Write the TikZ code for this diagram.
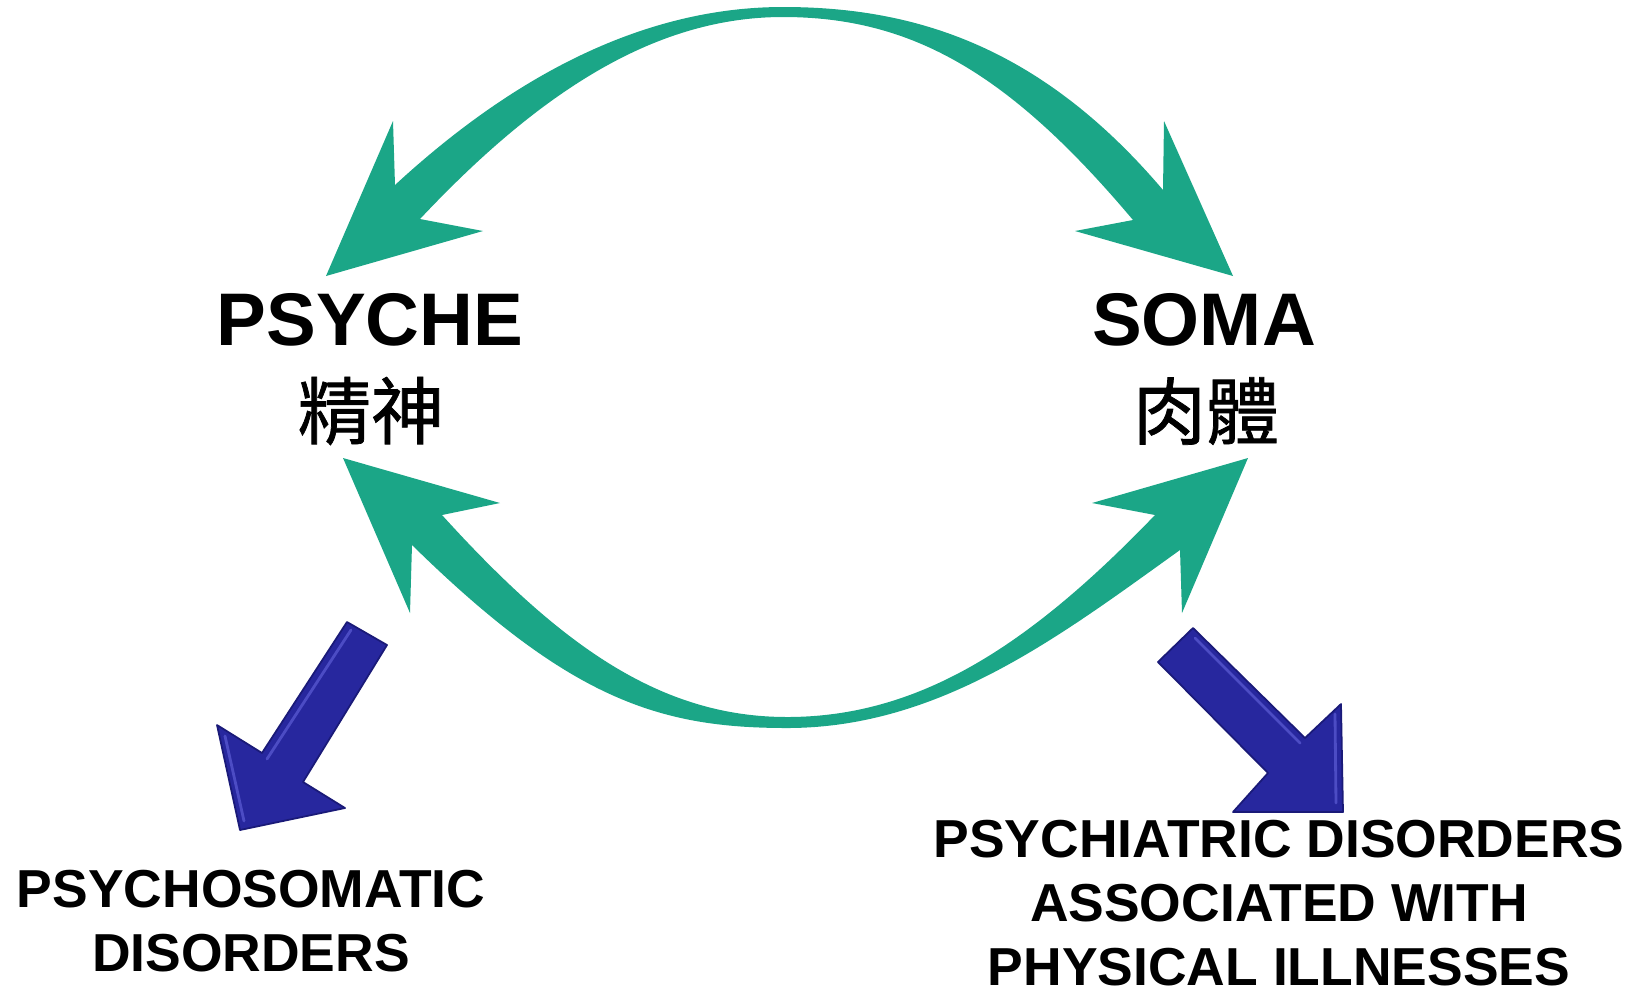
\documentclass[tikz,border=0pt]{standalone}
\usepackage{fontspec}
\setmainfont{Liberation Sans}
\newfontfamily\cjk[FakeBold=1]{Noto Sans CJK TC}
\usetikzlibrary{positioning}
\definecolor{loopgreen}{HTML}{1BA687}
\definecolor{arrowblue}{HTML}{27279E}
\definecolor{arrowlight}{HTML}{4C4CC4}
\definecolor{arrowdark}{HTML}{1A1A78}

\begin{document}
\begin{tikzpicture}[x=0.01cm,y=-0.01cm]

        \tikzstyle{bigword}=[font=\fontsize{21.2}{25}\selectfont\bfseries,inner sep=0pt]
        \tikzstyle{zhword}=[font=\cjk\fontsize{20.8}{25}\selectfont,inner sep=0pt]
        \tikzstyle{smallword}=[font=\fontsize{15.2}{18.2}\selectfont\bfseries,inner sep=0pt,align=center]
        \tikzstyle{blockarrow}=[fill=arrowblue,draw=arrowdark,line width=0.5pt,line join=round]
        \tikzstyle{bevel}=[draw=arrowlight,line width=0.8pt,line cap=round]

        \useasboundingbox (0,0) rectangle (1639,996);

        %% the two words
        \node[bigword,anchor=base] (psyche) at (370,345) {PSYCHE};
        \node[zhword] (psycheZh) at (371,411) {精神};
        \node[bigword,anchor=base] (soma) at (1204,345) {SOMA};
        \node[zhword] (somaZh) at (1206,411) {肉體};

        %% upper loop, psyche <-> soma
        \fill[loopgreen] (326,276) -- (393,121) -- (395,185)
            .. controls (524,66) and (654,7) .. (783,7)
            .. controls (913,7) and (1040,45) .. (1163,190)
            -- (1164,121) -- (1233,276) -- (1075,231) -- (1133,220)
            .. controls (1010,74) and (913,17) .. (783,17)
            .. controls (660,17) and (545,86) .. (420,219)
            -- (483,231) -- cycle;

        %% lower loop, soma <-> psyche
        \fill[loopgreen] (343,458) -- (500,503) -- (442,515)
            .. controls (560,645) and (660,717) .. (787,717)
            .. controls (920,717) and (1030,645) .. (1155,515)
            -- (1092,503) -- (1248,458) -- (1182,613) -- (1180,550)
            .. controls (1060,636) and (940,728) .. (787,728)
            .. controls (660,728) and (570,700) .. (412,545)
            -- (410,613) -- cycle;

        %% block arrows
        \draw[blockarrow] (347,622) -- (262,753) -- (217,725) -- (240,830) -- (345,808) -- (303,782) -- (387,645) -- cycle;
        \draw[bevel] (351,630) -- (267,759);
        \draw[bevel] (225,736) -- (244,821);

        \draw[blockarrow] (1158,662) -- (1193,628) -- (1305,738) -- (1341,704) -- (1343,812) -- (1233,812) -- (1268,773) -- cycle;
        \draw[bevel] (1195,638) -- (1300,743);
        \draw[bevel] (1335,714) -- (1336,803);

        %% the labels
        \node[smallword,anchor=base] (psychosomatic) at (251,971) {PSYCHOSOMATIC\\DISORDERS};
        \node[smallword,anchor=base] (psychiatric) at (1279,985)
            {PSYCHIATRIC DISORDERS\\ASSOCIATED WITH\\PHYSICAL ILLNESSES};

\end{tikzpicture}
\end{document}
